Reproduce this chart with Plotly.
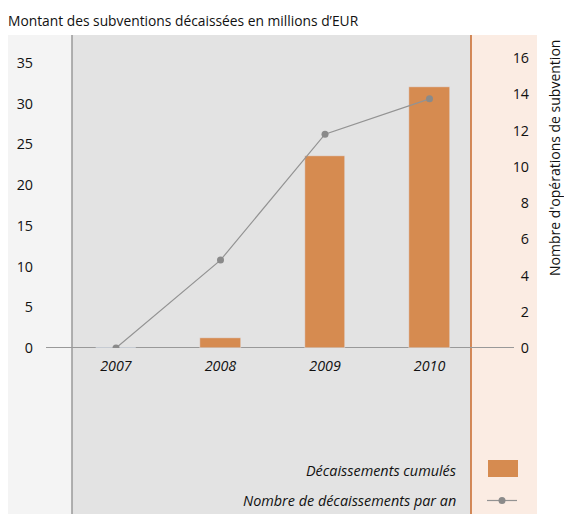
import plotly.graph_objects as go

years = ["2007", "2008", "2009", "2010"]
cumulative_disbursed = [0, 1.25, 23.6, 32.1]          # millions EUR (left axis)
disbursements_per_year = [0, 4.85, 11.8, 13.75]      # count (right axis)
left_ticks = [0, 5, 10, 15, 20, 25, 30, 35]
right_ticks = [0, 2, 4, 6, 8, 10, 12, 14, 16]

W, H = 564, 514
ML, MR, MT, MB = 72, 29, 35, 166
PW = W - ML - MR
PH = H - MT - MB

def px(x):
    return (x - ML) / PW

def py(y):
    return (H - MB - y) / PH

FONT = "Open Sans"
TXT = "#111111"
BAR = "#d68b50"
GRAYLINE = "#999999"
ORANGE = "#c8692a"

fig = go.Figure()
fig.add_trace(go.Bar(
    x=years, y=cumulative_disbursed, marker_color=BAR, width=0.392,
    name="Décaissements cumulés", xaxis="x", yaxis="y", showlegend=False,
))
fig.add_trace(go.Scatter(
    x=years, y=disbursements_per_year, mode="lines+markers",
    line=dict(color="#939393", width=1.2), marker=dict(color="#8a8a8a", size=7),
    name="Nombre de décaissements par an", xaxis="x", yaxis="y2", showlegend=False,
))

shapes = [
    dict(type="rect", xref="paper", yref="paper", x0=px(8), x1=px(72), y0=py(514), y1=py(35),
         fillcolor="#f4f4f4", line_width=0, layer="below"),
    dict(type="rect", xref="paper", yref="paper", x0=px(72), x1=px(471), y0=py(514), y1=py(35),
         fillcolor="#e3e3e3", line_width=0, layer="below"),
    dict(type="rect", xref="paper", yref="paper", x0=px(471), x1=px(537), y0=py(514), y1=py(35),
         fillcolor="#fbece3", line_width=0, layer="below"),
    dict(type="line", xref="paper", yref="paper", x0=px(72), x1=px(72), y0=py(514), y1=py(35),
         line=dict(color="#9a9a9a", width=1.5), layer="below"),
    dict(type="line", xref="paper", yref="paper", x0=px(471), x1=px(471), y0=py(514), y1=py(35),
         line=dict(color=ORANGE, width=1.5), layer="below"),
    dict(type="line", xref="paper", yref="y", x0=px(46), x1=px(514), y0=0, y1=0,
         line=dict(color=GRAYLINE, width=1.8), layer="below"),
    # manual legend symbols
    dict(type="rect", xref="paper", yref="paper", x0=px(488), x1=px(518), y0=py(477), y1=py(460),
         fillcolor=BAR, line_width=0),
    dict(type="line", xref="paper", yref="paper", x0=px(487), x1=px(517), y0=py(500.5), y1=py(500.5),
         line=dict(color="#939393", width=1.2)),
    dict(type="circle", xref="paper", yref="paper", x0=px(498.5), x1=px(505.5), y0=py(504), y1=py(497),
         fillcolor="#8a8a8a", line_width=0),
]

annotations = [
    dict(text="Nombre d'opérations de subvention", xref="paper", yref="paper",
         x=px(554), y=py(158), textangle=-90, showarrow=False,
         xanchor="center", yanchor="middle", font=dict(family=FONT, size=14, color=TXT)),
    dict(text="<i>Décaissements cumulés</i>", xref="paper", yref="paper",
         x=px(458), y=py(470), showarrow=False, xanchor="right", yanchor="middle",
         font=dict(family=FONT, size=14.4, color=TXT)),
    dict(text="<i>Nombre de décaissements par an</i>", xref="paper", yref="paper",
         x=px(458), y=py(500.5), showarrow=False, xanchor="right", yanchor="middle",
         font=dict(family=FONT, size=14.4, color=TXT)),
]

fig.update_layout(
    width=W, height=H,
    margin=dict(l=ML, r=MR, t=MT, b=MB),
    paper_bgcolor="white", plot_bgcolor="rgba(0,0,0,0)",
    font=dict(family=FONT, size=14, color=TXT),
    title=dict(text="Montant des subventions décaissées en millions d’EUR",
               x=8 / W, xanchor="left", xref="container",
               y=1 - 21.5 / H, yanchor="middle", yref="container",
               font=dict(family=FONT, size=13.8, color=TXT)),
    showlegend=False,
    bargap=0,
    xaxis=dict(type="category", domain=[0, px(471)], range=[-0.421, 3.397],
               showgrid=False, zeroline=False, showline=False, ticks="",
               tickfont=dict(family=FONT, size=14.3, style="italic", color=TXT),
               ticklabelstandoff=8),
    yaxis=dict(range=[0, (H - MB - MT) / 8.143], tickvals=left_ticks,
               showgrid=False, zeroline=False, showline=False, ticks="",
               ticklabelstandoff=38, tickfont=dict(family=FONT, size=14.3, color=TXT)),
    yaxis2=dict(range=[0, (H - MB - MT) / 18.12], tickvals=right_ticks, overlaying="y",
                side="right", anchor="free", position=1,
                ticklabelposition="inside", ticklabeloverflow="allow",
                showgrid=False, zeroline=False, showline=False, ticks="",
                ticklabelstandoff=3, tickfont=dict(family=FONT, size=14.3, color=TXT)),
    shapes=shapes,
    annotations=annotations,
)

fig.write_html("out.html")
